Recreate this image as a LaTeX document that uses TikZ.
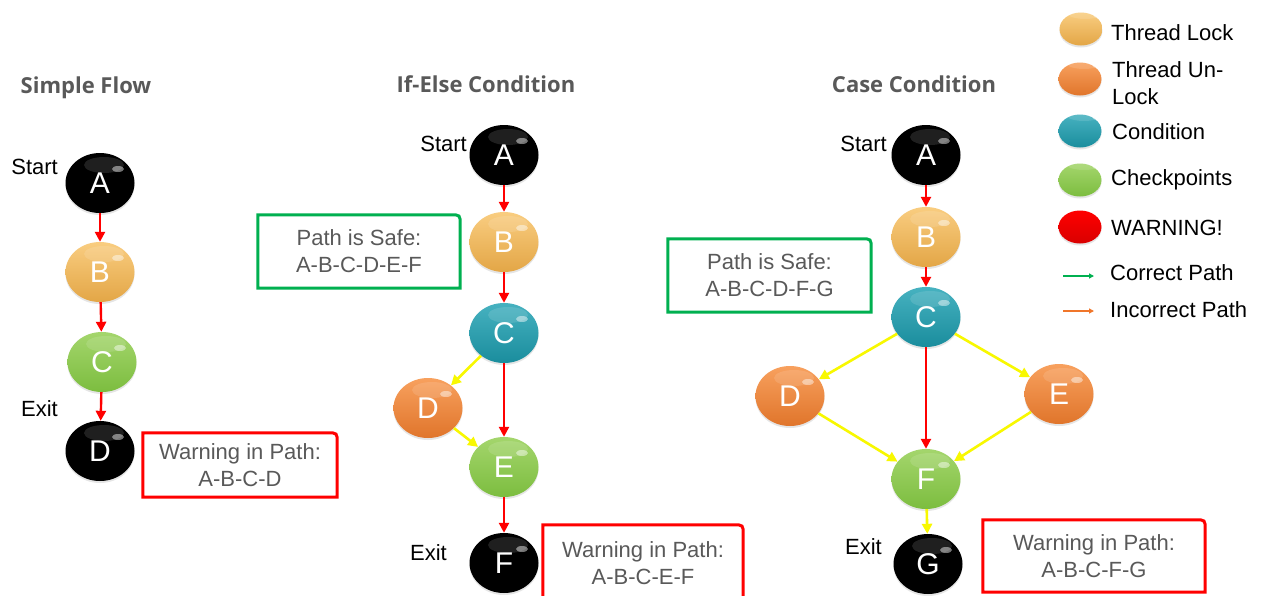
\documentclass[tikz,border=0pt]{standalone}
\usepackage{fontspec}
\setmainfont{Liberation Sans}
\newfontfamily\titlefont{Open Sans}
\usetikzlibrary{shapes.geometric,arrows.meta,calc,shadows}

\definecolor{lockc}{HTML}{F8C46A}
\definecolor{lockd}{HTML}{E3A646}
\definecolor{unlockc}{HTML}{F7964C}
\definecolor{unlockd}{HTML}{E0752B}
\definecolor{condc}{HTML}{32A9B9}
\definecolor{condd}{HTML}{1A8D9D}
\definecolor{checkc}{HTML}{9AD15C}
\definecolor{checkd}{HTML}{7CBD3F}
\definecolor{warnc}{HTML}{FF0000}
\definecolor{textgray}{HTML}{595959}
\definecolor{okgreen}{HTML}{00B050}
\definecolor{flowred}{HTML}{FF0000}
\definecolor{flowyellow}{HTML}{F8F800}
\definecolor{legorange}{HTML}{F0762A}

% frame with a rounded upper-right corner around a named text node
\newcommand\cornerbox[2]{%
  \draw[#1] (#2.south west) -- (#2.north west)
    -- ($(#2.north east)+(-10,0)$) .. controls (#2.north east) .. ($(#2.north east)+(0,10)$)
    -- (#2.south east) -- cycle;}

\tikzset{
  ball/.style={ellipse, minimum width=69pt, minimum height=60pt, inner sep=0pt,
    text=white, font=\fontsize{30}{30}\selectfont,
    drop shadow={shadow xshift=0pt, shadow yshift=-2pt, opacity=0.2}},
  glint/.style={path picture={
    \fill[white,opacity=0.45] ($(path picture bounding box.center)+(18pt,14pt)$) ellipse (6pt and 3pt);
    \fill[white,opacity=0.12] ($(path picture bounding box.center)+(4pt,18pt)$) ellipse (20pt and 8pt);}},
  blackball/.style={ball, glint, fill=black},
  lockball/.style={ball, glint, top color=lockc!85!white, middle color=lockc, bottom color=lockd},
  unlockball/.style={ball, glint, top color=unlockc!90!white, middle color=unlockc, bottom color=unlockd},
  condball/.style={ball, glint, top color=condc!90!white, middle color=condc, bottom color=condd},
  checkball/.style={ball, glint, top color=checkc!90!white, middle color=checkc, bottom color=checkd},
  warnball/.style={ball, top color=warnc, bottom color=warnc!85!black},
  legball/.style={minimum width=43pt, minimum height=33pt},
  redflow/.style={draw=flowred, line width=2.4pt, -{Triangle[length=10pt,width=10pt]}},
  yelflow/.style={draw=flowyellow, line width=2.6pt, -{Triangle[length=10pt,width=10pt]}},
  legok/.style={draw=okgreen, line width=1.4pt, -{Triangle[length=5pt,width=5pt]}},
  legbad/.style={draw=legorange, line width=1.4pt, -{Triangle[length=5pt,width=5pt]}},
  lbl/.style={font=\fontsize{22}{22}\selectfont, inner sep=0pt},
  ttl/.style={font=\titlefont\bfseries\fontsize{22}{22}\selectfont, text=textgray, inner sep=0pt},
  boxtext/.style={align=center, text=textgray, font=\fontsize{22}{27}\selectfont, inner sep=0pt},
  safeline/.style={draw=okgreen, line width=3pt},
  warnline/.style={draw=flowred, line width=3pt},
}

\begin{document}
\begin{tikzpicture}[x=1pt, y=-1pt]
\useasboundingbox[fill=white] (0,0) rectangle (1262,595);

% ---------- titles ----------
\node[ttl] (t1) at (86,88) {Simple Flow};
\node[ttl] (t2) at (486,84) {If-Else Condition};
\node[ttl] (t3) at (914,84) {Case Condition};

% ---------- simple flow ----------
\node[blackball] (a1) at (100,183) {A};
\node[lockball]  (b1) at (100,272) {B};
\node[checkball] (c1) at (102,362) {C};
\node[blackball] (d1) at (100,451) {D};
\node[lbl, anchor=east] (s1) at (58,167) {Start};
\node[lbl, anchor=east] (x1) at (58,409) {Exit};
\draw[redflow] (a1) -- (b1);
\draw[redflow] (b1) -- (c1);
\draw[redflow] (c1) -- (d1);
\node[boxtext, minimum width=194pt, minimum height=64pt] (w1) at (240,465) {Warning in Path:\\A-B-C-D};
\cornerbox{warnline}{w1}

% ---------- if-else condition ----------
\node[blackball]  (a2) at (504,155) {A};
\node[lockball]   (b2) at (504,242) {B};
\node[condball]   (c2) at (504,333) {C};
\node[unlockball] (d2) at (428,408) {D};
\node[checkball]  (e2) at (504,467) {E};
\node[blackball]  (f2) at (504,563) {F};
\node[lbl, anchor=east] (s2) at (467,144) {Start};
\node[lbl, anchor=east] (x2) at (447,553) {Exit};
\draw[redflow] (a2) -- (b2);
\draw[redflow] (b2) -- (c2);
\draw[yelflow] (c2) -- (d2);
\draw[redflow] (c2) -- (e2);
\draw[yelflow] (d2) -- (e2);
\draw[redflow] (e2) -- (f2);
\node[boxtext, minimum width=202pt, minimum height=73pt] (g2) at (359,251.5) {Path is Safe:\\A-B-C-D-E-F};
\cornerbox{safeline}{g2}
\node[boxtext, minimum width=200pt, minimum height=77pt] (w2) at (643,563.5) {Warning in Path:\\A-B-C-E-F};
\cornerbox{warnline}{w2}

% ---------- case condition ----------
\node[blackball]  (a3) at (926,155) {A};
\node[lockball]   (b3) at (926,237) {B};
\node[condball]   (c3) at (926,317) {C};
\node[unlockball] (d3) at (790,396) {D};
\node[unlockball] (e3) at (1059,394) {E};
\node[checkball]  (f3) at (926,479) {F};
\node[blackball]  (g3) at (928,564) {G};
\node[lbl, anchor=east] (s3) at (887,144) {Start};
\node[lbl, anchor=east] (x3) at (882,547) {Exit};
\draw[redflow] (a3) -- (b3);
\draw[redflow] (b3) -- (c3);
\draw[yelflow] (c3) -- (d3);
\draw[yelflow] (c3) -- (e3);
\draw[redflow] (c3) -- (f3);
\draw[yelflow] (d3) -- (f3);
\draw[yelflow] (e3) -- (f3);
\draw[yelflow] (f3) -- (g3);
\node[boxtext, minimum width=203pt, minimum height=73pt] (g4) at (769.5,275.5) {Path is Safe:\\A-B-C-D-F-G};
\cornerbox{safeline}{g4}
\node[boxtext, minimum width=222pt, minimum height=72pt] (w3) at (1094,556) {Warning in Path:\\A-B-C-F-G};
\cornerbox{warnline}{w3}

% ---------- legend ----------
\node[lockball, legball]   (k1) at (1081,29) {};
\node[unlockball, legball] (k2) at (1080,79) {};
\node[condball, legball]   (k3) at (1080,131) {};
\node[checkball, legball]  (k4) at (1080,180) {};
\node[warnball, legball]   (k5) at (1080,227) {};
\node[lbl, anchor=west] (n1) at (1111,33) {Thread Lock};
\node[lbl, anchor=west, align=left, font=\fontsize{22}{27}\selectfont] (n2) at (1112,83.5) {Thread Un-\\Lock};
\node[lbl, anchor=west] (n3) at (1112,132) {Condition};
\node[lbl, anchor=west] (n4) at (1111,180) {Checkpoints};
\node[lbl, anchor=west] (n5) at (1111,228) {WARNING!};
\coordinate (p1) at (1063,276);
\coordinate (p2) at (1094,276);
\coordinate (q1) at (1063,311);
\coordinate (q2) at (1094,311);
\draw[legok] (p1) -- (p2);
\draw[legbad] (q1) -- (q2);
\node[lbl, anchor=west] (n6) at (1110,273) {Correct Path};
\node[lbl, anchor=west] (n7) at (1110,310) {Incorrect Path};
\end{tikzpicture}
\end{document}
